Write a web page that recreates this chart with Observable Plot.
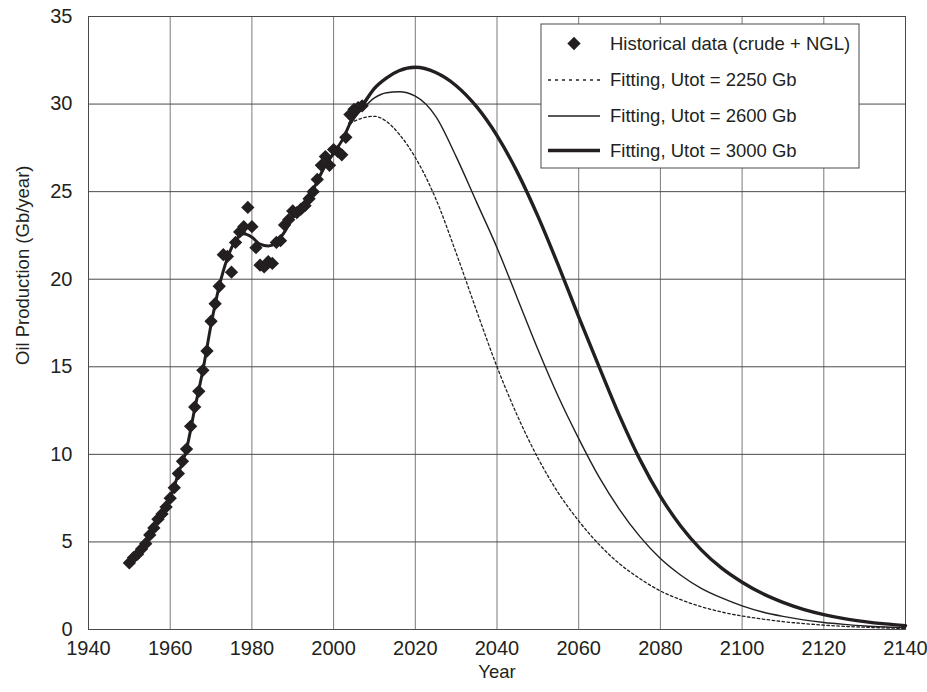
<!DOCTYPE html>
<html>
<head>
<meta charset="utf-8">
<script src="https://cdn.jsdelivr.net/npm/d3@7"></script>
<script src="https://cdn.jsdelivr.net/npm/@observablehq/plot@0.6"></script>
<style>
  html, body { margin: 0; padding: 0; background: #fff; }
  svg { display: block; }
</style>
</head>
<body>
<div id="chart"></div>
<script>
// ---- Data ----
const histYears = [1950,1951,1952,1953,1954,1955,1956,1957,1958,1959,
  1960,1961,1962,1963,1964,1965,1966,1967,1968,1969,
  1970,1971,1972,1973,1974,1975,1976,1977,1978,1979,
  1980,1981,1982,1983,1984,1985,1986,1987,1988,1989,
  1990,1991,1992,1993,1994,1995,1996,1997,1998,1999,
  2000,2001,2002,2003,2004,2005,2006,2007];
const histValues = [3.8,4.1,4.3,4.6,4.9,5.4,5.8,6.3,6.6,7.0,
  7.5,8.1,8.9,9.6,10.3,11.6,12.7,13.6,14.8,15.9,
  17.6,18.6,19.6,21.4,21.3,20.4,22.1,22.7,23.0,24.1,
  23.0,21.8,20.8,20.7,21.0,20.9,22.1,22.2,23.1,23.4,
  23.9,23.8,24.0,24.2,24.6,25.0,25.7,26.5,27.0,26.5,
  27.4,27.3,27.1,28.1,29.4,29.7,29.8,29.9];

// Fitted curve over the historical period (shared by all fits)
const fitHistYears  = [1950,1952,1954,1956,1958,1960,1962,1964,1966,1968,1970,1972,1974,1976,1978,1980,1982,1984,1986,1988,1990,1992,1994,1996,1998,2000,2002,2004];
const fitHistValues = [3.8,4.3,4.9,5.8,6.6,7.5,8.9,10.3,12.6,14.8,17.4,19.6,21.2,22.2,22.6,22.4,22.0,21.9,22.1,22.7,23.5,24.0,24.6,25.6,26.5,27.2,27.9,28.9];

// Forecast fits
const fcYears = [2004,2007,2010,2013,2016,2020,2025,2030,2035,2040,2045,2050,2055,2060,2065,2070,2075,2080,2085,2090,2095,2100,2105,2110,2115,2120,2125,2130,2135,2140];
const fit2250 = [28.9,29.2,29.3,29.0,28.3,26.95,24.6,21.5,18.2,15.0,12.2,9.8,7.8,6.2,4.85,3.75,2.9,2.2,1.7,1.3,1.0,0.77,0.6,0.45,0.34,0.25,0.18,0.13,0.09,0.06];
const fit2600 = [28.9,29.7,30.35,30.65,30.7,30.45,29.3,27.0,24.4,21.8,18.9,16.0,13.3,10.9,8.7,6.85,5.3,4.05,3.1,2.35,1.8,1.35,1.0,0.75,0.55,0.4,0.29,0.2,0.14,0.1];
const fit3000 = [28.9,29.9,30.9,31.5,31.9,32.1,31.8,31.05,29.85,28.2,26.1,23.6,20.8,17.85,15.0,12.2,9.7,7.6,5.9,4.55,3.5,2.7,2.05,1.55,1.15,0.85,0.62,0.45,0.32,0.22];

const xTickValues = [1940,1960,1980,2000,2020,2040,2060,2080,2100,2120,2140];
const yTickValues = [0,5,10,15,20,25,30,35];

const legendLabels = [
  "Historical data (crude + NGL)",
  "Fitting, Utot = 2250 Gb",
  "Fitting, Utot = 2600 Gb",
  "Fitting, Utot = 3000 Gb"
];

// ---- Tables built from the arrays ----
const hist = histYears.map((year, i) => ({year, value: histValues[i]}));
const fitHist = fitHistYears.map((year, i) => ({year, value: fitHistValues[i]}));
const fc = (vals) => fcYears.map((year, i) => ({year, value: vals[i]}));

const ink = "#231f20";
const font = "'Liberation Sans', Arial, Helvetica, sans-serif";
const dotR = 6;

const svg = Plot.plot({
  width: 927,
  height: 692,
  marginLeft: 88,
  marginRight: 22,
  marginTop: 16,
  marginBottom: 63,
  style: {fontFamily: font, fontSize: "20px", color: ink, background: "white"},
  x: {domain: [1940, 2140], ticks: xTickValues, tickFormat: d => String(d), label: null, tickSize: 0, tickPadding: 11},
  y: {domain: [0, 35], ticks: yTickValues, label: null, tickSize: 0, tickPadding: 16},
  marks: [
    Plot.gridX(xTickValues, {stroke: "#7a7a7a", strokeOpacity: 1, strokeWidth: 1}),
    Plot.gridY(yTickValues, {stroke: "#4a4a4a", strokeOpacity: 1, strokeWidth: 1}),
    Plot.frame({stroke: "#4a4a4a", strokeWidth: 1}),
    Plot.line(fitHist, {x: "year", y: "value", stroke: ink, strokeWidth: 3, curve: "monotone-x"}),
    Plot.line(fc(fit2250), {x: "year", y: "value", stroke: ink, strokeWidth: 1.3, strokeDasharray: "2.5,2.5", curve: "monotone-x"}),
    Plot.line(fc(fit2600), {x: "year", y: "value", stroke: ink, strokeWidth: 1.4, curve: "monotone-x"}),
    Plot.line(fc(fit3000), {x: "year", y: "value", stroke: ink, strokeWidth: 3.4, curve: "monotone-x"}),
    Plot.dot(hist, {x: "year", y: "value", symbol: "diamond2", r: dotR, fill: ink, stroke: "none"}),
    Plot.text(["Year"], {frameAnchor: "bottom", dy: 48, fontSize: 18.5, fill: ink}),
    Plot.text(["Oil Production (Gb/year)"], {frameAnchor: "left", rotate: -90, dx: -65, dy: 42, fontSize: 18.5, fill: ink})
  ]
});

// ---- Legend (inside the plot frame, top right) ----
const g = d3.select(svg).append("g")
  .attr("font-family", font).attr("font-size", 18.5).attr("fill", ink).attr("text-anchor", "start");
const bx = 541, by = 24, bw = 318, bh = 144;
g.append("rect").attr("x", bx).attr("y", by).attr("width", bw).attr("height", bh)
  .attr("fill", "white").attr("stroke", "#4a4a4a").attr("stroke-width", 1);
const rowY = [43.5, 80, 116, 150.5];
const sampleX0 = bx + 7, sampleX1 = bx + 59, textX = bx + 69;
g.append("path").attr("transform", `translate(${(sampleX0 + sampleX1) / 2},${rowY[0]})`)
  .attr("d", d3.symbol(d3.symbolDiamond2, Math.PI * dotR * dotR)()).attr("fill", ink);
const styles = [null, {w: 1.3, dash: "3,4"}, {w: 1.4, dash: null}, {w: 3.4, dash: null}];
styles.forEach((s, i) => {
  if (!s) return;
  const l = g.append("line").attr("x1", sampleX0).attr("x2", sampleX1).attr("y1", rowY[i]).attr("y2", rowY[i])
    .attr("stroke", ink).attr("stroke-width", s.w);
  if (s.dash) l.attr("stroke-dasharray", s.dash);
});
legendLabels.forEach((t, i) => {
  g.append("text").attr("x", textX).attr("y", rowY[i]).attr("dy", "0.35em").attr("text-anchor", "start").text(t);
});

document.getElementById("chart").appendChild(svg);
</script>
</body>
</html>
